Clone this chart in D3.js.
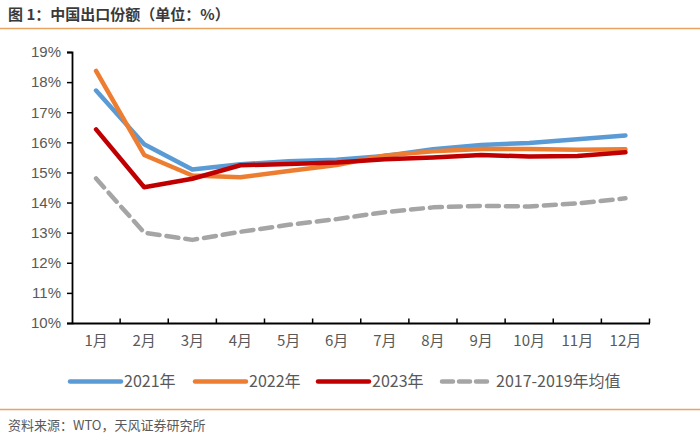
<!DOCTYPE html>
<html><head><meta charset="utf-8">
<script src="https://cdn.jsdelivr.net/npm/d3@7"></script>
<style>
body{margin:0;background:#fff;}
svg{display:block;}
</style></head>
<body>
<svg id="c" width="700" height="438"></svg>
<script>
const months = ["1月","2月","3月","4月","5月","6月","7月","8月","9月","10月","11月","12月"];
const s2021 = [17.72,15.94,15.10,15.27,15.37,15.42,15.55,15.77,15.91,15.98,16.10,16.23];
const s2022 = [18.37,15.58,14.90,14.84,15.05,15.25,15.56,15.70,15.78,15.78,15.75,15.77];
const s2023 = [16.43,14.51,14.79,15.24,15.28,15.33,15.44,15.50,15.58,15.53,15.55,15.67];
const sAvg  = [14.80,13.00,12.76,13.03,13.26,13.45,13.68,13.84,13.89,13.87,13.97,14.14];
const yTicks = [10,11,12,13,14,15,16,17,18,19];
const seriesNames = ["2021年","2022年","2023年","2017-2019年均值"];
const colors = ["#5B9BD5","#ED7D31","#C00000","#A5A5A5"];

const svg = d3.select("#c");
const font = "'Noto Sans CJK SC','Liberation Sans',sans-serif";

// title
svg.append("text").attr("x",8).attr("y",20).attr("font-family",font).attr("font-weight","bold")
  .attr("font-size",15).attr("fill","#3a3a3a").text("图 1：中国出口份额（单位：%）");
svg.append("line").attr("x1",0).attr("x2",700).attr("y1",28.5).attr("y2",28.5)
  .attr("stroke","#E8A460").attr("stroke-width",1.5);

const x = d3.scaleBand().domain(months).range([72,649.5]);
const y = d3.scaleLinear().domain([10,19]).range([323,52]);

// y axis
const ya = svg.append("g").attr("transform","translate(72,0)")
  .call(d3.axisLeft(y).tickValues(yTicks).tickSize(5).tickPadding(6).tickFormat(d=>d+"%"));
ya.select(".domain").attr("stroke","#000").attr("stroke-width",1.8);
ya.selectAll(".tick line").attr("stroke","#000").attr("stroke-width",1.5);
ya.selectAll(".tick text").attr("font-family","'Liberation Sans Narrow','Liberation Sans',sans-serif")
  .attr("font-size",15).attr("fill","#595959");

// x axis
const xa = svg.append("g").attr("transform","translate(0,323)")
  .call(d3.axisBottom(x).tickSize(0).tickPadding(12));
xa.select(".domain").attr("stroke","#000").attr("stroke-width",1.8);
xa.selectAll(".tick text").attr("font-family",font).attr("font-size",15).attr("fill","#595959");
// band boundary ticks (inward)
const bounds = months.map(m=>x(m)).concat([x.range()[1]]).slice(1);
svg.append("g").selectAll("line").data(bounds).join("line")
  .attr("x1",d=>d).attr("x2",d=>d).attr("y1",323).attr("y2",318.5)
  .attr("stroke","#000").attr("stroke-width",1.5);

const line = d3.line().x((d,i)=>x(months[i])+x.bandwidth()/2).y(d=>y(d));
const data = [s2021,s2022,s2023];
// avg dashed first (behind)
svg.append("path").datum(sAvg).attr("d",line).attr("fill","none")
  .attr("stroke",colors[3]).attr("stroke-width",4.5).attr("stroke-dasharray","12,7")
  .attr("stroke-linecap","round").attr("stroke-linejoin","round");
[s2021,s2022,s2023].forEach((s,i)=>{
  svg.append("path").datum(s).attr("d",line).attr("fill","none")
    .attr("stroke",colors[i]).attr("stroke-width",4.5)
    .attr("stroke-linecap","round").attr("stroke-linejoin","round");
});
// redraw 2021 on top? keep order as reference: red on top

// legend
const legX = [70,195,318,442];
const lg = svg.append("g");
seriesNames.forEach((n,i)=>{
  const g = lg.append("g").attr("transform",`translate(${legX[i]},381.5)`);
  g.append("line").attr("x1",0).attr("x2",i===3?45:51).attr("y1",0).attr("y2",0)
    .attr("stroke",colors[i]).attr("stroke-width",4.5).attr("stroke-linecap","round")
    .attr("stroke-dasharray",i===3?"11,6":null);
  g.append("text").attr("x",i===3?54:54).attr("y",0).attr("dy","0.35em")
    .attr("font-family",font).attr("font-size",16).attr("fill","#595959").text(n);
});

// footer
svg.append("line").attr("x1",0).attr("x2",700).attr("y1",409.5).attr("y2",409.5)
  .attr("stroke","#E8A460").attr("stroke-width",1.5);
svg.append("text").attr("x",8).attr("y",430).attr("font-family",font)
  .attr("font-size",13).attr("fill","#595959").text("资料来源：WTO，天风证券研究所");
</script>
</body></html>
